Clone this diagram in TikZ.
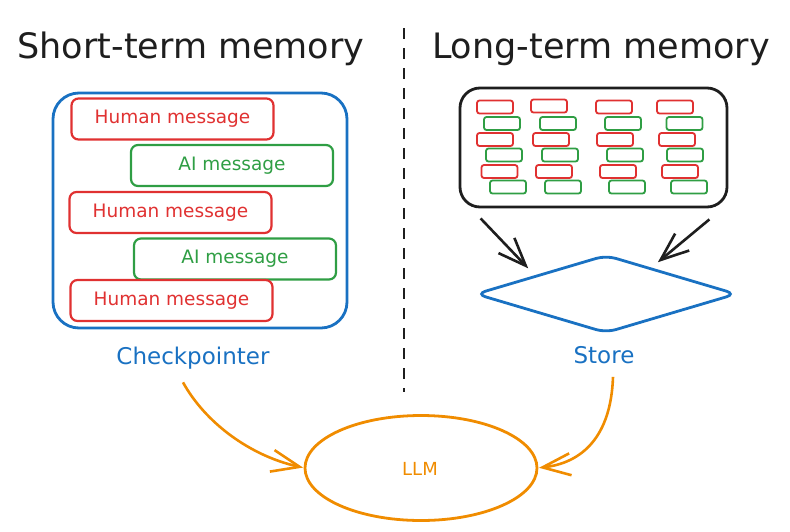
\documentclass[tikz,border=0pt]{standalone}
\usepackage{fontspec}
\setmainfont{DejaVu Sans}
\definecolor{exred}{HTML}{E03131}
\definecolor{exgreen}{HTML}{2F9E44}
\definecolor{exblue}{HTML}{1971C2}
\definecolor{exorange}{HTML}{F08C00}
\definecolor{ink}{HTML}{1E1E1E}
\usetikzlibrary{shapes.geometric,arrows.meta,calc}

\begin{document}
\begin{tikzpicture}[
  x=1pt, y=-1pt,
  title/.style={anchor=base, text=ink, font=\fontsize{35}{40}\selectfont},
  human/.style={rectangle, draw=exred, text=exred, line width=2.2pt, rounded corners=7pt, minimum width=202pt, minimum height=41pt, font=\fontsize{18.5}{20}\selectfont},
  ai/.style={human, draw=exgreen, text=exgreen},
  chipred/.style={rectangle, draw=exred, line width=1.8pt, rounded corners=2.5pt, minimum width=36pt, minimum height=13pt, inner sep=0pt},
  chipgreen/.style={chipred, draw=exgreen},
  caption/.style={anchor=base, text=exblue, font=\fontsize{23}{26}\selectfont},
  barb/.style={-{Straight Barb[length=28pt,width=22pt]}, line width=2.6pt},
]
\useasboundingbox (0,0) rectangle (790,531);
\node[title] (shortt) at (191,58) {Short-term memory};
\node[title] (longt) at (601,58) {Long-term memory};
\draw[ink, line width=1.6pt, dash pattern=on 11pt off 9pt] (404,28) -- (404,392);

\node[rectangle, draw=exblue, line width=2.8pt, rounded corners=26pt, minimum width=294pt, minimum height=235pt] (thread) at (200,210.5) {};
\node[human] (h1) at (172.5,119) {Human message};
\node[ai] (a1) at (232,165.5) {AI message};
\node[human] (h2) at (170.5,212.5) {Human message};
\node[ai] (a2) at (235,259) {AI message};
\node[human] (h3) at (171.5,300.5) {Human message};
\node[caption] (ckpt) at (193,364) {Checkpointer};

\node[rectangle, draw=ink, line width=2.8pt, rounded corners=20pt, minimum width=267pt, minimum height=119pt] (mem) at (593.5,147.5) {};
\foreach \cx/\cy [count=\i] in {495/107, 549/106, 614/107, 675/107, 495/139.5, 551/139.5, 615/139.5, 677/139.5, 499.5/171.5, 554/171.5, 618/171.5, 680/171.5}
  \node[chipred] (r\i) at (\cx,\cy) {};
\foreach \cx/\cy [count=\i] in {502/123.5, 558/123.5, 623/123.5, 684.5/123.5, 504/155, 560/155, 625/155, 685/155, 508/187, 563/187, 627/187, 689/187}
  \node[chipgreen] (g\i) at (\cx,\cy) {};

\node[diamond, draw=exblue, line width=2.8pt, rounded corners=10pt, minimum width=260pt, minimum height=77pt, aspect=3.4, inner sep=0pt, outer sep=0pt] (store) at (606,294) {};
\node[caption] (storet) at (604,363) {Store};
\draw[barb, ink, shorten >=11pt] ($(mem.south west)+(22,10)$) -- ($(store.west)!0.46!(store.north)$);
\draw[barb, ink, shorten >=10pt] ($(mem.south east)+(-19,11)$) -- ($(store.north)!0.34!(store.east)$);

\node[ellipse, draw=exorange, line width=2.8pt, minimum width=232pt, minimum height=105pt, inner sep=0pt, outer sep=0pt] (llm) at (421,468) {};
\node[anchor=base, text=exorange, font=\fontsize{18}{20}\selectfont] (llmt) at (420,475) {LLM};
\draw[barb, exorange, shorten >=2pt] ($(ckpt.south)+(-10,10)$) .. controls +(22,40) and +(-55,-12) .. (llm.west);
\draw[barb, exorange, shorten >=2pt] ($(storet.south)+(9,10)$) .. controls +(-2,60) and +(45,-5) .. (llm.east);
\end{tikzpicture}
\end{document}
